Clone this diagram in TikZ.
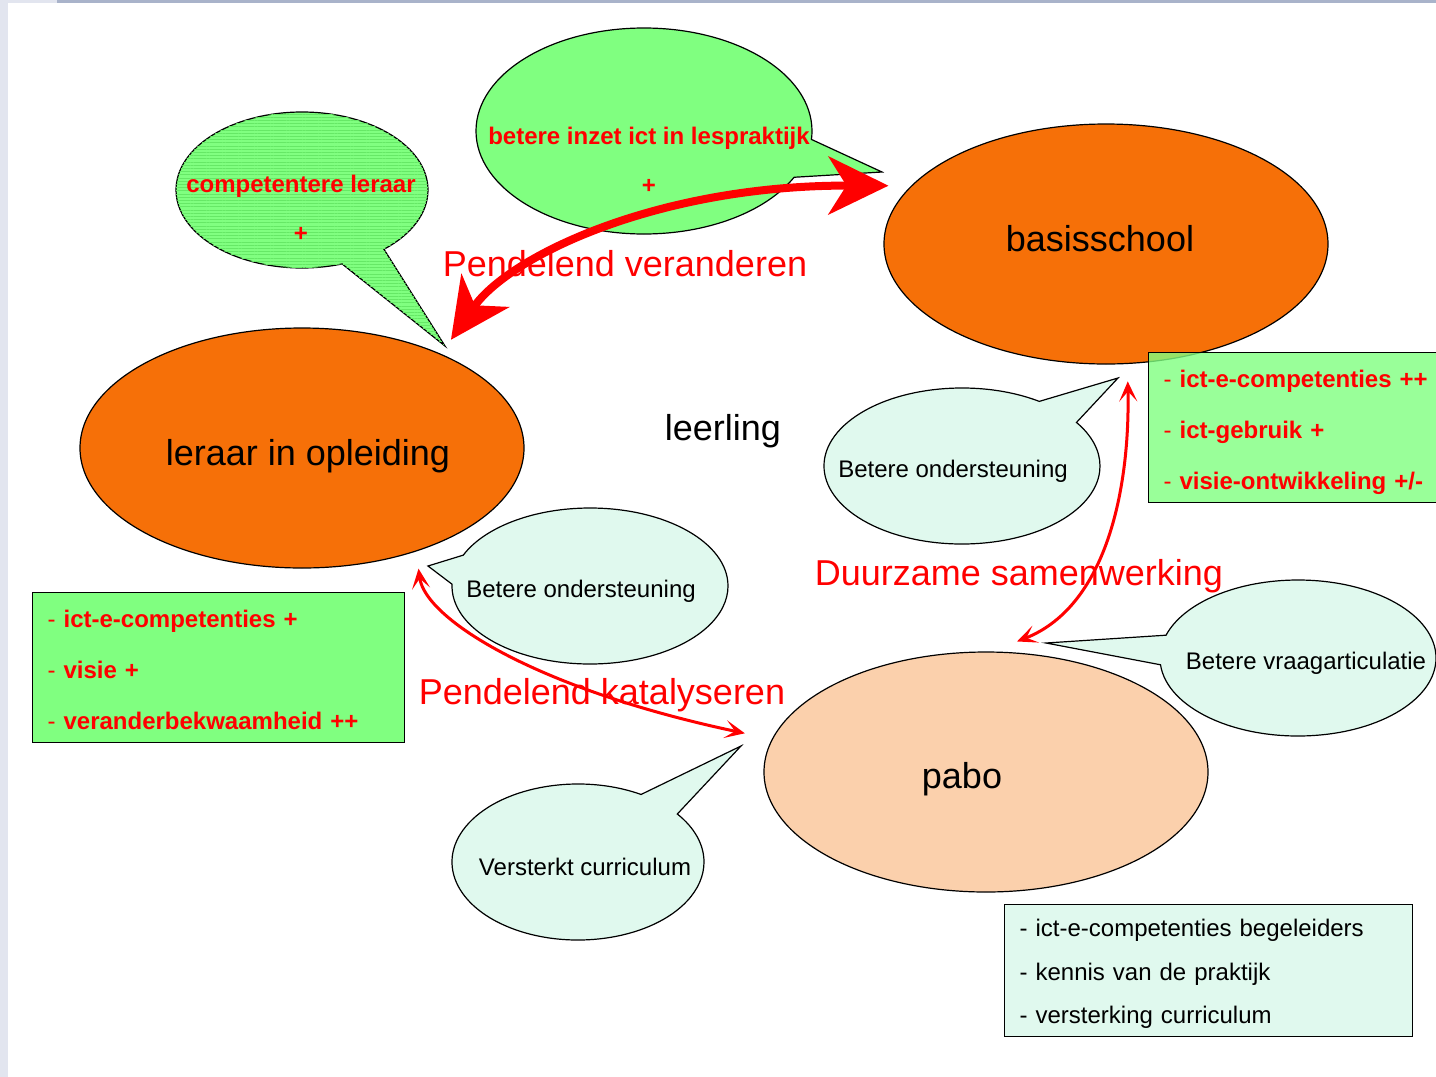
\documentclass[tikz,border=0pt]{standalone}
\usepackage{fontspec}
\setmainfont{Liberation Sans}
\usepackage{tikz}
\usetikzlibrary{shapes,shapes.callouts,arrows.meta,patterns.meta}

\definecolor{oranje}{HTML}{F67008}
\definecolor{perzik}{HTML}{FBD0AC}
\definecolor{lichtgroen}{HTML}{80FF80}
\definecolor{streep}{HTML}{66E866}
\definecolor{mint}{HTML}{E0F9EE}
\definecolor{randgrijs}{HTML}{E2E5EF}
\definecolor{balk}{HTML}{A9B3CA}

\begin{document}
\begin{tikzpicture}
[x=0.5pt,y=-0.5pt]
\tikzset{
	groot/.style = {ellipse, draw, line width=0.6pt, inner sep=0, outer sep=9pt, minimum width=222pt, minimum height=120pt},
	ballon/.style = {ellipse callout, draw, line width=0.6pt, inner sep=0, callout pointer arc=22},
	groenballon/.style = {ballon, fill=lichtgroen},
	mintballon/.style = {ballon, fill=mint, minimum width=138pt, minimum height=78pt},
	kader/.style = {rectangle, draw, line width=0.6pt, anchor=north west, align=left, inner xsep=7.5pt, inner ysep=0pt, font=\fontsize{12}{25.5}\selectfont},
	groot tekst/.style = {font=\fontsize{18}{21.6}\selectfont},
	klein tekst/.style = {font=\fontsize{12}{14.4}\selectfont},
	rood vet/.style = {text=red, align=center, font=\fontsize{12}{24.5}\selectfont\bfseries},
	dikpijl/.style = {red, line width=4pt, arrows={Stealth[length=30pt,width=29pt,inset=9pt]-Stealth[length=30pt,width=29pt,inset=9pt]}},
	dunpijl/.style = {red, line width=1.5pt, arrows={Stealth[length=10pt,width=9pt,inset=5pt]-Stealth[length=10pt,width=9pt,inset=5pt]}}
}

\useasboundingbox (0,0) rectangle (1436,1077);
\clip (0,0) rectangle (1436,1077);
\fill[randgrijs] (0,0) rectangle (8,1077);
\fill[randgrijs] (0,0) rectangle (57,3);
\fill[balk] (57,0) rectangle (1436,3);

\node[groot, fill=oranje] (lio) at (302,448) {};
\node[groot, fill=oranje] (bs) at (1106,244) {};
\node[groot, fill=perzik] (pabo) at (986,772) {};

\node[groenballon, minimum width=126pt, minimum height=78pt, callout absolute pointer={(445,346)},
	postaction={pattern={Lines[angle=0,distance=1.6pt,line width=0.25pt]}, pattern color=streep}] (b1) at (302,190) {};
\node[groenballon, minimum width=168pt, minimum height=103pt, callout absolute pointer={(882,172)}] (b2) at (644,131) {};
\node[mintballon, callout absolute pointer={(1118,378)}] (b3) at (962,466) {};
\node[mintballon, callout absolute pointer={(428,566)}] (b4) at (590,586) {};
\node[mintballon, callout absolute pointer={(1046,643)}] (b5) at (1298,658) {};
\node[mintballon, minimum width=126pt, callout absolute pointer={(741,746)}] (b6) at (578,862) {};

\node[kader, fill=lichtgroen, fill opacity=0.8, text opacity=1, text=red, minimum height=75pt, text width=150pt] (k1) at (1148,352)
	{\rule{0pt}{13.8pt}- \textbf{ict-e-competenties ++}\\- \textbf{ict-gebruik +}\\- \textbf{visie-ontwikkeling +/-}};
\node[kader, fill=lichtgroen, text=red, minimum height=75pt, text width=171pt] (k2) at (32,592)
	{\rule{0pt}{10.8pt}- \textbf{ict-e-competenties +}\\- \textbf{visie +}\\- \textbf{veranderbekwaamheid ++}};
\node[kader, fill=mint, minimum height=66pt, text width=189pt, font=\fontsize{12}{21.75}\selectfont] (k3) at (1004,904)
	{\rule{0pt}{12.3pt}- ict-e-competenties begeleiders\\- kennis van de praktijk\\- versterking curriculum};

\node[groot tekst] (t1) at (308,456) {leraar in opleiding};
\node[groot tekst] (t2) at (1100,239) {basisschool};
\node[groot tekst] (t3) at (962,779) {pabo};
\node[groot tekst] (t4) at (723,431) {leerling};
\node[rood vet] (t5) at (301,208) {competentere leraar\\+};
\node[rood vet] (t6) at (649,160) {betere inzet ict in lespraktijk\\+};
\node[klein tekst] (t7) at (953,471) {Betere ondersteuning};
\node[klein tekst] (t8) at (581,591) {Betere ondersteuning};
\node[klein tekst] (t9) at (1306,663) {Betere vraagarticulatie};
\node[klein tekst] (t10) at (585,867) {Versterkt curriculum};
\node[groot tekst, text=red] (l1) at (625,264) {Pendelend veranderen};
\node[groot tekst, text=red] (l2) at (1019,576) {Duurzame samenwerking};
\node[groot tekst, text=red] (l3) at (602,695) {Pendelend katalyseren};

\draw[dikpijl] (lio.36) .. controls (510,255) and (660,185) .. (bs.165);
\draw[dunpijl, shorten >=5pt] (lio.-46) .. controls (425,620) and (540,690) .. (pabo.171);
\draw[dunpijl, shorten >=-7pt] (bs.-81) .. controls (1130,480) and (1110,605) .. (pabo.72);
\end{tikzpicture}
\end{document}
